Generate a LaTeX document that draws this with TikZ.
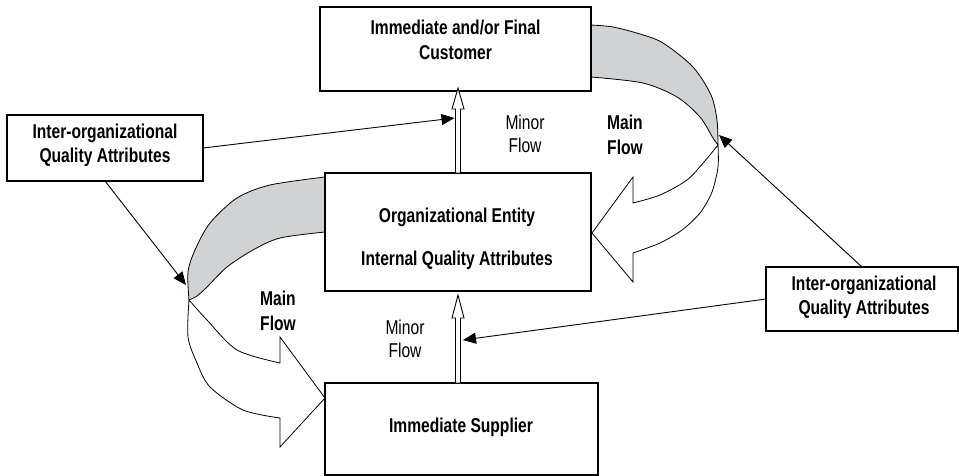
\documentclass[tikz,border=0pt]{standalone}
\usepackage{fontspec}
\setmainfont{Liberation Sans}[FakeStretch=0.78]
\usetikzlibrary{arrows.meta,calc}
\definecolor{bandgray}{RGB}{209,210,212}
\tikzset{
  mainbox/.style={draw, line width=2.4pt, fill=white, outer sep=0pt, inner sep=0pt},
  iobox/.style={draw, line width=1.4pt, fill=white, outer sep=0pt, inner sep=0pt,
     font=\fontsize{20}{24.5}\selectfont\bfseries, align=center},
  btext/.style={font=\fontsize{20}{24.5}\selectfont\bfseries, align=center, inner sep=0pt},
  rtext/.style={font=\fontsize{20}{22.5}\selectfont, align=center, inner sep=0pt},
  band/.style={fill=bandgray, draw=black, line width=0.8pt, line join=round},
  ribbon/.style={fill=white, draw=black, line width=0.8pt, line join=miter},
  hollow/.style={fill=white, draw=black, line width=0.9pt, line join=miter},
  conn/.style={line width=0.9pt, -{Triangle[length=13pt,width=11pt]}}
}
\begin{document}
\begin{tikzpicture}[x=1pt,y=-1pt]
\useasboundingbox (0,0) rectangle (959,476);
% ---- curved main-flow arrow, right (customer -> entity)
\path[band] plot[smooth] coordinates {(591,25) (613,27) (640,34) (663,43) (693,67) (711,95) (717,120) (718,145)}
  -- plot[smooth] coordinates {(718,145) (713,138) (700,117) (677,97) (643,83) (591,77)} -- cycle;
\path[ribbon] plot[smooth] coordinates {(718,145) (718,167) (712,192) (700,213) (682,230) (660,243) (633,253)}
  -- (633,282) -- (592,233) -- (633,177) -- (633,203)
  -- plot[smooth] coordinates {(633,203) (660,195) (687,180) (704,162) (718,145)} -- cycle;
% ---- curved main-flow arrow, left (entity -> supplier)
\path[band] plot[smooth] coordinates {(325,177) (270,185) (237,198) (210,223) (195,250) (188,272) (189,300)}
  -- plot[smooth] coordinates {(189,300) (197,296) (207,287) (227,267) (253,250) (280,238) (325,232)} -- cycle;
\path[ribbon] plot[smooth] coordinates {(189,300) (188,337) (197,363) (210,387) (243,410) (280,418)}
  -- (280,447) -- (325,398) -- (280,337) -- (280,363)
  -- plot[smooth] coordinates {(280,363) (237,350) (207,320) (189,300)} -- cycle;
% ---- boxes
\node[mainbox, minimum width=271pt, minimum height=84pt] (top) at (455.5,49) {};
\node[mainbox, minimum width=266pt, minimum height=118pt] (mid) at (458,232) {};
\node[mainbox, minimum width=273pt, minimum height=92pt] (bot) at (461.5,429) {};
\node[iobox, minimum width=196pt, minimum height=66pt] (lio) at (105,148) {};
\node[iobox, minimum width=192pt, minimum height=64pt] (rio) at (862,299) {};
% ---- texts
\node[btext] (toptext) at (455.5,40) {Immediate and/or Final\\Customer};
\node[btext] (midtext1) at (457,217) {Organizational Entity};
\node[btext] (midtext2) at (457,260) {Internal Quality Attributes};
\node[btext] (bottext) at (461,427) {Immediate Supplier};
\node[btext] (liotext) at (105,145.5) {Inter-organizational\\Quality Attributes};
\node[btext] (riotext) at (864,297.5) {Inter-organizational\\Quality Attributes};
\node[rtext] (minor1) at (525,134) {Minor\\Flow};
\node[rtext] (minor2) at (405,339) {Minor\\Flow};
\node[btext] (main1) at (625,135) {Main\\Flow};
\node[btext] (main2) at (278,311) {Main\\Flow};
% ---- minor flow hollow arrows
\coordinate (uptip) at ($(mid.north |- top.south)+(0,-3)$);
\draw[hollow] ($(mid.north)+(-2.5,0)$) -- ($(uptip)+(-2.5,21)$) -- ($(uptip)+(-6,21)$) -- (uptip)
  -- ($(uptip)+(6,21)$) -- ($(uptip)+(2.5,21)$) -- ($(mid.north)+(2.5,0)$) -- cycle;
\coordinate (lotip) at ($(mid.south)+(0,4)$);
\draw[hollow] ($(mid.south |- bot.north)+(-2.5,0)$) -- ($(lotip)+(-2.5,23)$) -- ($(lotip)+(-6,23)$) -- (lotip)
  -- ($(lotip)+(6,23)$) -- ($(lotip)+(2.5,23)$) -- ($(mid.south |- bot.north)+(2.5,0)$) -- cycle;
% ---- connector targets
\coordinate (upshaft) at ($(uptip)+(-3.5,30)$);
\coordinate (loshaft) at ($(mid.south)+(5,49)$);
\coordinate (lcurve) at (186,285);
\coordinate (rcurve) at (719,135);
% ---- connectors
\draw[conn] (lio.east) -- (upshaft);
\draw[conn] (lio.south) -- (lcurve);
\draw[conn] (rio.north) -- (rcurve);
\draw[conn] (rio.west) -- (loshaft);
\end{tikzpicture}
\end{document}
